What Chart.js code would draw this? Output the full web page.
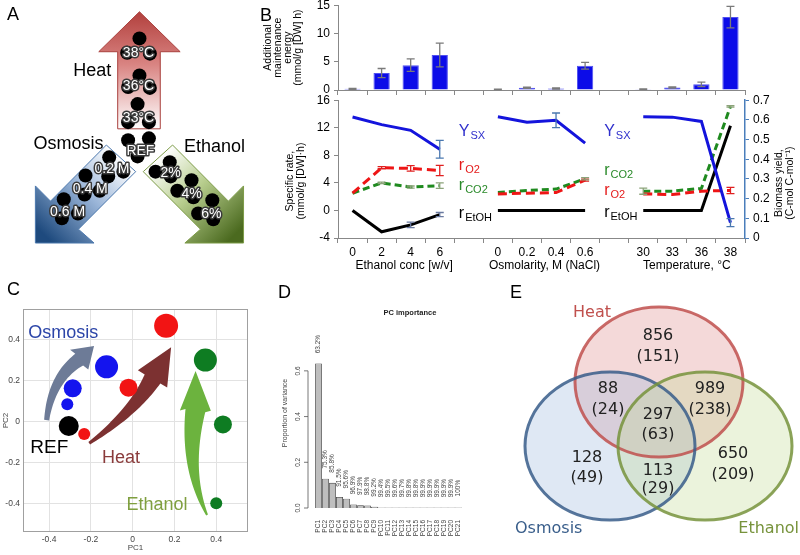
<!DOCTYPE html>
<html>
<head>
<meta charset="utf-8" />
<script src="https://cdn.jsdelivr.net/npm/chart.js"></script>
<style>
  body { margin: 0; background: #fff; }
  #page { position: relative; width: 800px; height: 555px; overflow: hidden; font-family: "Liberation Sans", Arial, sans-serif; }
  #page canvas { position: absolute; }
  .panel { position: absolute; font-size: 18px; line-height: 1; color: #000; }
</style>
</head>
<body>
<div id="page">
  <canvas id="chartA" width="260" height="290" style="left:0px;top:0px"></canvas>
  <canvas id="chartBtop" width="550" height="108" style="left:250px;top:-6px"></canvas>
  <canvas id="chartBbot" width="550" height="186" style="left:250px;top:89px"></canvas>
  <canvas id="chartC" width="260" height="265" style="left:0px;top:290px"></canvas>
  <canvas id="chartD" width="240" height="265" style="left:270px;top:290px"></canvas>
  <canvas id="chartE" width="290" height="265" style="left:510px;top:290px"></canvas>
  <div class="panel" style="left:7px;top:5px">A</div>
  <div class="panel" style="left:260px;top:6px">B</div>
  <div class="panel" style="left:7px;top:280px">C</div>
  <div class="panel" style="left:278px;top:283px">D</div>
  <div class="panel" style="left:510px;top:283px">E</div>
</div>

<script>
// ---------- panel A: stress conditions (3 dots each) ----------
const stressConds = ['38°C', '36°C', '33°C', 'REF', '0.2 M', '0.4 M', '0.6 M', '2%', '4%', '6%'];
const stressDotX = [[140, 127, 151], [140, 128, 151], [138, 128, 150], [128, 150, 138], [108, 123, 107],
                    [83, 98, 82], [60, 75, 58], [172, 157, 173], [195, 180, 197], [217, 202, 218]];
const stressDotY = [[33, 48, 49], [72, 84, 85], [102, 121, 121], [140, 138, 157], [158, 173, 178],
                    [177, 193, 197], [202, 217, 222], [163, 173, 178], [182, 193, 200], [203, 217, 223]];
const stressLabelX = [139, 139, 139, 141, 111, 88, 64, 173, 195, 216];
const stressLabelY = [49, 83, 117, 151, 170, 191, 216, 175, 197, 218];

// ---------- panel B ----------
const ethanolConc = ['0', '2', '4', '6'];
const osmolarity = ['0', '0.2', '0.4', '0.6'];
const temperature = ['30', '33', '36', '38'];

// additional maintenance energy
const maintEth = [0.2, 3.0, 4.4, 6.2];
const maintEthErr = [0.1, 0.8, 1.1, 2.1];
const maintOsm = [0.1, 0.4, 0.25, 4.3];
const maintOsmErr = [0.05, 0.1, 0.1, 0.6];
const maintTmp = [0.15, 0.45, 1.0, 12.9];
const maintTmpErr = [0.05, 0.1, 0.4, 1.9];

// biomass yield (right axis)
const ysxEth = [0.615, 0.576, 0.547, 0.451];
const ysxEthErr = [null, null, null, 0.045];
const ysxOsm = [0.616, 0.588, 0.598, 0.482];
const ysxOsmErr = [null, null, 0.037, null];
const ysxTmp = [0.616, 0.614, 0.592, 0.078];
const ysxTmpErr = [null, null, null, 0.02];

// specific rates (left axis)
const rO2Eth = [2.5, 6.2, 6.1, 5.8];
const rO2EthErr = [null, 0.15, 0.4, 0.75];
const rO2Osm = [2.4, 2.5, 2.6, 4.4];
const rO2OsmErr = [null, null, null, 0.15];
const rO2Tmp = [2.4, 2.3, 2.8, 2.9];
const rO2TmpErr = [null, null, null, 0.45];

const rCO2Eth = [2.5, 4.0, 3.4, 3.6];
const rCO2EthErr = [null, 0.1, 0.15, 0.4];
const rCO2Osm = [2.6, 2.9, 3.1, 4.6];
const rCO2OsmErr = [null, null, null, 0.15];
const rCO2Tmp = [2.8, 2.8, 3.2, 15.1];
const rCO2TmpErr = [0.45, null, null, 0.1];

const rEtohEth = [0, -3.1, -2.1, -0.6];
const rEtohEthErr = [null, null, 0.4, 0.3];
const rEtohOsm = [0, 0, 0, 0];
const rEtohTmp = [0, 0, 0, 12.3];
const noErr = [null, null, null, null];

// ---------- panel C: PCA scores ----------
const refPC1 = [-0.306];
const refPC2 = [-0.023];
const osmPC1 = [-0.313, -0.287, -0.125];
const osmPC2 = [0.083, 0.161, 0.266];
const heatPC1 = [-0.232, -0.02, 0.16];
const heatPC2 = [-0.062, 0.164, 0.466];
const ethPC1 = [0.40, 0.432, 0.348];
const ethPC2 = [-0.40, -0.015, 0.299];
const pcaTicks = [-0.4, -0.2, 0, 0.2, 0.4];

// ---------- panel D: PC importance ----------
const pcNames = ['PC1', 'PC2', 'PC3', 'PC4', 'PC5', 'PC6', 'PC7', 'PC8', 'PC9', 'PC10', 'PC11',
                 'PC12', 'PC13', 'PC14', 'PC15', 'PC16', 'PC17', 'PC18', 'PC19', 'PC20', 'PC21'];
const pcVar = [0.632, 0.128, 0.11, 0.048, 0.041, 0.015, 0.012, 0.011, 0.005, 0.002, 0.002,
               0.002, 0.002, 0.002, 0.002, 0.002, 0.002, 0.002, 0.002, 0.002, 0.002];
const pcCum = ['63.2%', '75.3%', '85.8%', '91.5%', '95.6%', '96.9%', '97.9%', '98.8%', '99.2%', '99.4%', '99.5%',
               '99.6%', '99.7%', '99.8%', '99.8%', '99.9%', '99.9%', '99.9%', '99.9%', '99.9%', '100%'];
const pcAxisTicks = [0, 0.2, 0.4, 0.6];

// ---------- panel E: Venn counts (genes, TFs in brackets) ----------
const vennSets = ['Heat', 'Osmosis', 'Ethanol'];
const vennRegions = ['Heat', 'Heat+Osmosis', 'Heat+Ethanol', 'All', 'Osmosis', 'Osmosis+Ethanol', 'Ethanol'];
const vennGenes = [856, 88, 989, 297, 128, 113, 650];
const vennTFs = [151, 24, 238, 63, 49, 29, 209];

// -------------------------------------------------------------
const FONT = '"Liberation Sans", Arial, sans-serif';
Chart.defaults.font.family = FONT;
Chart.defaults.color = '#000';
Chart.defaults.animation = false;
Chart.defaults.responsive = false;
Chart.defaults.events = [];
Chart.defaults.plugins.legend.display = false;
Chart.defaults.plugins.tooltip.enabled = false;

function joinGroups(a, b, c) { return [...a, null, ...b, null, ...c]; }
const slotLabels = joinGroups(ethanolConc, osmolarity, temperature).map(v => v === null ? '' : v);
const zip = (xs, ys) => xs.map((x, i) => ({ x: x, y: ys[i] }));

// error bars for bar and line charts
const errorBars = {
  id: 'errorBars',
  afterDatasetsDraw(chart) {
    const ctx = chart.ctx;
    chart.data.datasets.forEach((ds, i) => {
      if (!ds.errors) return;
      const meta = chart.getDatasetMeta(i);
      const scale = chart.scales[meta.yAxisID];
      ctx.save();
      ctx.strokeStyle = ds.errColor;
      ctx.lineWidth = 1.3;
      meta.data.forEach((el, j) => {
        const v = ds.data[j], e = ds.errors[j];
        if (v == null || e == null) return;
        const x = el.x;
        const yt = scale.getPixelForValue(v + e), yb = scale.getPixelForValue(v - e);
        ctx.beginPath();
        ctx.moveTo(x, yt); ctx.lineTo(x, yb);
        ctx.moveTo(x - 4, yt); ctx.lineTo(x + 4, yt);
        ctx.moveTo(x - 4, yb); ctx.lineTo(x + 4, yb);
        ctx.stroke();
      });
      ctx.restore();
    });
  }
};

// ---------- A ----------
const stressArrows = [
  { pts: [[140, 5], [183, 47], [162, 47], [162, 128], [117, 128], [117, 47], [97, 47]],
    from: [140, 5], to: [140, 128], stops: ['#b2403d', '#d98482', '#ffffff'], edge: '#a9413e' },
  { pts: [[105, 145], [46, 204], [30, 188], [30, 248], [92, 248], [75.5, 233.5], [136, 173]],
    from: [120, 159], to: [40, 240], stops: ['#ffffff', '#9ab5d8', '#1e4a7e'], edge: '#4c78ad' },
  { pts: [[175, 145], [234, 204], [250, 188], [250, 248], [188, 248], [204.5, 233.5], [144, 173]],
    from: [160, 159], to: [240, 240], stops: ['#ffffff', '#b7cd8d', '#4b6a1f'], edge: '#7d9b48' }
];
const stressDecor = {
  id: 'stressDecor',
  beforeDatasetsDraw(chart) {
    const { ctx, scales: { x, y } } = chart;
    const P = p => [x.getPixelForValue(p[0]), y.getPixelForValue(p[1])];
    stressArrows.forEach(a => {
      const f = P(a.from), t = P(a.to);
      const g = ctx.createLinearGradient(f[0], f[1], t[0], t[1]);
      g.addColorStop(0, a.stops[0]); g.addColorStop(0.45, a.stops[1]); g.addColorStop(1, a.stops[2]);
      ctx.save();
      ctx.beginPath();
      a.pts.forEach((p, i) => { const q = P(p); i ? ctx.lineTo(q[0], q[1]) : ctx.moveTo(q[0], q[1]); });
      ctx.closePath();
      ctx.fillStyle = g; ctx.fill();
      ctx.strokeStyle = a.edge; ctx.lineWidth = 1; ctx.stroke();
      ctx.restore();
    });
    ctx.save();
    ctx.font = '18px ' + FONT;
    ctx.fillStyle = '#000';
    ctx.fillText('Heat', x.getPixelForValue(70), y.getPixelForValue(73));
    ctx.fillText('Osmosis', x.getPixelForValue(28), y.getPixelForValue(149));
    ctx.fillText('Ethanol', x.getPixelForValue(187), y.getPixelForValue(152));
    ctx.restore();
  },
  afterDatasetsDraw(chart) {
    const { ctx, scales: { x, y } } = chart;
    ctx.save();
    ctx.font = '14px ' + FONT;
    ctx.textAlign = 'center'; ctx.textBaseline = 'middle';
    ctx.lineJoin = 'round'; ctx.lineWidth = 3; ctx.strokeStyle = '#3a3a3a';
    ctx.fillStyle = '#fff';
    stressConds.forEach((c, i) => {
      const px = x.getPixelForValue(stressLabelX[i]), py = y.getPixelForValue(stressLabelY[i]);
      ctx.strokeText(c, px, py);
      ctx.fillText(c, px, py);
    });
    ctx.restore();
  }
};
const stressDots = [];
stressDotX.forEach((xs, i) => xs.forEach((v, j) => stressDots.push({ x: v, y: stressDotY[i][j] })));
new Chart(document.getElementById('chartA'), {
  type: 'scatter',
  data: { datasets: [{ data: stressDots, pointRadius: 7, backgroundColor: '#000', borderWidth: 0 }] },
  options: {
    scales: {
      x: { type: 'linear', min: 0, max: 260, display: false },
      y: { type: 'linear', min: 0, max: 290, reverse: true, display: false }
    }
  },
  plugins: [stressDecor]
});

// ---------- B top ----------
new Chart(document.getElementById('chartBtop'), {
  type: 'bar',
  data: {
    labels: slotLabels,
    datasets: [{
      data: joinGroups(maintEth, maintOsm, maintTmp),
      errors: joinGroups(maintEthErr, maintOsmErr, maintTmpErr),
      errColor: '#7a7a7a',
      backgroundColor: '#0c0ce8', borderColor: '#5050f0', borderWidth: 1,
      barPercentage: 0.56, categoryPercentage: 1
    }]
  },
  options: {
    layout: { padding: { right: 55 } },
    scales: {
      x: {
        grid: { offset: true, drawOnChartArea: false, tickLength: 5, color: '#888' },
        border: { color: '#888' }, ticks: { display: false },
        afterFit(s) { s.height = 12; }
      },
      y: {
        min: 0, max: 15,
        ticks: { stepSize: 5, font: { size: 12 }, padding: 4 },
        grid: { drawOnChartArea: false, tickLength: 4, color: '#888' },
        border: { color: '#888' },
        title: {
          display: true, text: ['Additional', 'maintenance', 'energy', '(mmol/g [DW] h)'],
          font: { size: 10.5, lineHeight: 0.95 }, padding: { top: 13, bottom: 0 }
        },
        afterFit(s) { s.width = 88; }
      }
    }
  },
  plugins: [errorBars]
});

// ---------- B bottom ----------
const rateLabels = [
  { slot: 4, v: 10.8, main: 'Y', sub: 'SX', color: '#3030cc' },
  { slot: 4, v: 5.9, main: 'r', sub: 'O2', color: '#e41a1a' },
  { slot: 4, v: 2.9, main: 'r', sub: 'CO2', color: '#2a8a2a' },
  { slot: 4, v: -1.1, main: 'r', sub: 'EtOH', color: '#000' },
  { slot: 9, v: 10.8, main: 'Y', sub: 'SX', color: '#3030cc' },
  { slot: 9, v: 5.2, main: 'r', sub: 'CO2', color: '#2a8a2a' },
  { slot: 9, v: 2.3, main: 'r', sub: 'O2', color: '#e41a1a' },
  { slot: 9, v: -1.0, main: 'r', sub: 'EtOH', color: '#000' }
];
const groupTitles = [
  { from: 0, to: 3, dx: 8, text: 'Ethanol conc [w/v]' },
  { from: 5, to: 8, dx: 3, text: 'Osmolarity, M (NaCl)' },
  { from: 10, to: 13, dx: 0, text: 'Temperature, °C' }
];
function rotatedLines(ctx, lines, x0, yc, step) {
  lines.forEach((t, i) => {
    ctx.save();
    ctx.translate(x0 + i * step, yc);
    ctx.rotate(-Math.PI / 2);
    ctx.textAlign = 'center'; ctx.textBaseline = 'middle';
    ctx.fillText(t, 0, 0);
    ctx.restore();
  });
}
const rateDecor = {
  id: 'rateDecor',
  afterDraw(chart) {
    const { ctx, chartArea: a, scales: { x, y } } = chart;
    ctx.save();
    rateLabels.forEach(l => {
      const px = x.getPixelForValue(l.slot) - 10, py = y.getPixelForValue(l.v);
      ctx.fillStyle = l.color;
      ctx.textAlign = 'left'; ctx.textBaseline = 'alphabetic';
      ctx.font = '16px ' + FONT;
      ctx.fillText(l.main, px, py);
      const w = ctx.measureText(l.main).width;
      ctx.font = '11px ' + FONT;
      ctx.fillText(l.sub, px + w + 1, py + 3);
    });
    ctx.fillStyle = '#000';
    ctx.font = '12px ' + FONT;
    ctx.textAlign = 'center'; ctx.textBaseline = 'middle';
    groupTitles.forEach(g => {
      const cx = (x.getPixelForValue(g.from) + x.getPixelForValue(g.to)) / 2 + g.dx;
      ctx.fillText(g.text, cx, a.bottom + 28);
    });
    ctx.font = '10.5px ' + FONT;
    const yc = (a.top + a.bottom) / 2;
    rotatedLines(ctx, ['Specific rate,', '(mmol/g [DW]·h)'], 40, yc + 12, 11);
    rotatedLines(ctx, ['Biomass yield,', '(C-mol C-mol⁻¹)'], 529, yc + 14, 11);
    ctx.restore();
  }
};
new Chart(document.getElementById('chartBbot'), {
  type: 'line',
  data: {
    labels: slotLabels,
    datasets: [
      { data: joinGroups(ysxEth, ysxOsm, ysxTmp), errors: joinGroups(ysxEthErr, ysxOsmErr, ysxTmpErr),
        errColor: '#4a78b0', yAxisID: 'y1', borderColor: '#1414dc', borderWidth: 3 },
      { data: joinGroups(rO2Eth, rO2Osm, rO2Tmp), errors: joinGroups(rO2EthErr, rO2OsmErr, rO2TmpErr),
        errColor: '#e02020', yAxisID: 'y', borderColor: '#ee1515', borderWidth: 3, borderDash: [9, 5] },
      { data: joinGroups(rCO2Eth, rCO2Osm, rCO2Tmp), errors: joinGroups(rCO2EthErr, rCO2OsmErr, rCO2TmpErr),
        errColor: '#8ca37a', yAxisID: 'y', borderColor: '#1f8a1f', borderWidth: 3, borderDash: [7, 4] },
      { data: joinGroups(rEtohEth, rEtohOsm, rEtohTmp), errors: joinGroups(rEtohEthErr, noErr, noErr),
        errColor: '#6a7aa0', yAxisID: 'y', borderColor: '#000', borderWidth: 3 }
    ]
  },
  options: {
    elements: { point: { radius: 0 }, line: { tension: 0 } },
    scales: {
      x: {
        offset: true,
        grid: { offset: true, drawOnChartArea: false, tickLength: 5, color: '#888' },
        border: { color: '#888' },
        ticks: { font: { size: 12 }, padding: 2, maxRotation: 0, autoSkip: false },
        afterFit(s) { s.height = 37; }
      },
      y: {
        position: 'left', min: -4, max: 16,
        ticks: { stepSize: 4, font: { size: 12 }, padding: 4 },
        grid: { drawOnChartArea: false, tickLength: 4, color: '#888' },
        border: { color: '#888' },
        afterFit(s) { s.width = 88; }
      },
      y1: {
        position: 'right', min: 0, max: 0.7,
        ticks: { stepSize: 0.1, font: { size: 12 }, padding: 4 },
        grid: { drawOnChartArea: false, tickLength: 4, color: '#4a7ebb' },
        border: { color: '#4a7ebb', width: 1.5 },
        afterFit(s) { s.width = 55; }
      }
    }
  },
  plugins: [errorBars, rateDecor]
});

// ---------- C ----------
const pcaArrows = [
  { color: '#6d7b97', tail: [-0.412, 0.006], ctrl: [-0.387, 0.211], base: [-0.256, 0.301], tip: [-0.185, 0.367], w0: 5, w1: 14, head: 27 },
  { color: '#7c3131', tail: [-0.208, -0.107], ctrl: [0.003, 0.044], base: [0.095, 0.207], tip: [0.184, 0.361], w0: 3, w1: 18, head: 34 },
  { color: '#6cb33e', tail: [0.356, -0.457], ctrl: [0.253, -0.237], base: [0.30, 0.052], tip: [0.301, 0.245], w0: 2, w1: 20, head: 31 }
];
const pcaTexts = [
  { t: 'Osmosis', x: -0.50, y: 0.406, color: '#2c45a8', size: 18 },
  { t: 'REF', x: -0.49, y: -0.155, color: '#000', size: 19 },
  { t: 'Heat', x: -0.147, y: -0.203, color: '#8a3b3b', size: 18 },
  { t: 'Ethanol', x: -0.03, y: -0.432, color: '#7f9f3f', size: 18 }
];
function drawCurvedArrow(ctx, p0, c, p1, tip, w0, w1, headW, color) {
  const n = 30, L = [], R = [];
  for (let i = 0; i <= n; i++) {
    const t = i / n, m = 1 - t;
    const x = m * m * p0[0] + 2 * m * t * c[0] + t * t * p1[0];
    const y = m * m * p0[1] + 2 * m * t * c[1] + t * t * p1[1];
    const dx = 2 * m * (c[0] - p0[0]) + 2 * t * (p1[0] - c[0]);
    const dy = 2 * m * (c[1] - p0[1]) + 2 * t * (p1[1] - c[1]);
    const len = Math.hypot(dx, dy) || 1;
    const hw = (w0 + (w1 - w0) * t) / 2;
    L.push([x - dy / len * hw, y + dx / len * hw]);
    R.push([x + dy / len * hw, y - dx / len * hw]);
  }
  const hx = tip[0] - p1[0], hy = tip[1] - p1[1], hl = Math.hypot(hx, hy);
  const nx = -hy / hl, ny = hx / hl;
  ctx.beginPath();
  ctx.moveTo(L[0][0], L[0][1]);
  L.forEach(p => ctx.lineTo(p[0], p[1]));
  ctx.lineTo(p1[0] + nx * headW / 2, p1[1] + ny * headW / 2);
  ctx.lineTo(tip[0], tip[1]);
  ctx.lineTo(p1[0] - nx * headW / 2, p1[1] - ny * headW / 2);
  for (let i = R.length - 1; i >= 0; i--) ctx.lineTo(R[i][0], R[i][1]);
  ctx.closePath();
  ctx.fillStyle = color;
  ctx.fill();
}
const pcaDecor = {
  id: 'pcaDecor',
  beforeDatasetsDraw(chart) {
    const { ctx, scales: { x, y } } = chart;
    const P = p => [x.getPixelForValue(p[0]), y.getPixelForValue(p[1])];
    ctx.save();
    pcaArrows.forEach(a => drawCurvedArrow(ctx, P(a.tail), P(a.ctrl), P(a.base), P(a.tip), a.w0, a.w1, a.head, a.color));
    pcaTexts.forEach(t => {
      ctx.font = t.size + 'px ' + FONT;
      ctx.fillStyle = t.color;
      ctx.fillText(t.t, x.getPixelForValue(t.x), y.getPixelForValue(t.y));
    });
    ctx.restore();
  },
  afterDraw(chart) {
    const { ctx, chartArea: a } = chart;
    ctx.save();
    ctx.strokeStyle = '#a0a0a0'; ctx.lineWidth = 1;
    ctx.strokeRect(a.left + 0.5, a.top + 0.5, a.width - 1, a.height - 1);
    ctx.fillStyle = '#444'; ctx.font = '8px ' + FONT;
    ctx.textAlign = 'center'; ctx.textBaseline = 'middle';
    ctx.fillText('PC1', (a.left + a.right) / 2, 258);
    rotatedLines(ctx, ['PC2'], 6, (a.top + a.bottom) / 2, 0);
    ctx.restore();
  }
};
const pcaAxis = {
  type: 'linear',
  afterBuildTicks(s) { s.ticks = pcaTicks.map(v => ({ value: v })); },
  ticks: { font: { size: 8.5 }, color: '#444', padding: 3, callback: v => v === 0 ? '0' : v.toFixed(1) },
  grid: { color: '#e2e2e2', drawTicks: false },
  border: { display: false }
};
new Chart(document.getElementById('chartC'), {
  type: 'scatter',
  data: {
    datasets: [
      { data: zip(refPC1, refPC2), pointRadius: 10, backgroundColor: '#000' },
      { data: zip(osmPC1, osmPC2), pointRadius: [6, 9, 11.5], backgroundColor: '#1414ee' },
      { data: zip(heatPC1, heatPC2), pointRadius: [6, 9, 12], backgroundColor: '#f21414' },
      { data: zip(ethPC1, ethPC2), pointRadius: [6, 9, 11.5], backgroundColor: '#0e7c22' }
    ]
  },
  options: {
    elements: { point: { borderWidth: 0 } },
    layout: { padding: { top: 19, right: 8 } },
    scales: {
      x: Object.assign({}, pcaAxis, { min: -0.525, max: 0.552, afterFit(s) { s.height = 23; } }),
      y: Object.assign({}, pcaAxis, { min: -0.54, max: 0.548, afterFit(s) { s.width = 23; } })
    }
  },
  plugins: [pcaDecor]
});

// ---------- D ----------
const pcDecor = {
  id: 'pcDecor',
  afterDatasetsDraw(chart) {
    const { ctx, chartArea: a, scales: { y } } = chart;
    const ax = a.left - 7;
    ctx.save();
    ctx.strokeStyle = '#555'; ctx.lineWidth = 0.8;
    ctx.beginPath();
    ctx.moveTo(ax, y.getPixelForValue(0)); ctx.lineTo(ax, y.getPixelForValue(0.6));
    pcAxisTicks.forEach(t => { const py = y.getPixelForValue(t); ctx.moveTo(ax, py); ctx.lineTo(ax - 4, py); });
    ctx.stroke();
    ctx.fillStyle = '#444';
    ctx.font = '6.5px ' + FONT;
    pcAxisTicks.forEach(t => rotatedLines(ctx, [t.toFixed(1)], ax - 10, y.getPixelForValue(t), 0));
    chart.getDatasetMeta(0).data.forEach((bar, i) => {
      rotatedLines(ctx, [pcCum[i]], bar.x, y.getPixelForValue(pcVar[i] + 0.085), 0);
    });
    ctx.font = '7px ' + FONT;
    rotatedLines(ctx, ['Proportion of variance'], 15, 123, 0);
    ctx.font = 'bold 7.5px ' + FONT;
    ctx.fillStyle = '#222';
    ctx.textAlign = 'center'; ctx.textBaseline = 'middle';
    ctx.fillText('PC importance', 140, 23);
    ctx.restore();
  }
};
new Chart(document.getElementById('chartD'), {
  type: 'bar',
  data: {
    labels: pcNames,
    datasets: [{ data: pcVar, backgroundColor: '#bebebe', borderColor: '#3c3c3c', borderWidth: 0.8,
                 barPercentage: 0.97, categoryPercentage: 1 }]
  },
  options: {
    layout: { padding: { top: 58, right: 48 } },
    scales: {
      x: {
        grid: { display: false }, border: { display: false },
        ticks: { font: { size: 6.5 }, color: '#444', minRotation: 90, maxRotation: 90, autoSkip: false, padding: 4 },
        afterFit(s) { s.height = 47; }
      },
      y: {
        min: 0, max: 0.7,
        ticks: { display: false }, grid: { display: false }, border: { display: false },
        afterFit(s) { s.width = 45; }
      }
    }
  },
  plugins: [pcDecor]
});

// ---------- E ----------
const vennShapes = [
  { cx: 149, cy: 92, rx: 84, ry: 75, fill: 'rgba(220,130,130,0.3)', edge: '#c0504d' },
  { cx: 100, cy: 156, rx: 85, ry: 74, fill: 'rgba(150,180,220,0.3)', edge: '#385d8a' },
  { cx: 195, cy: 156, rx: 87, ry: 74, fill: 'rgba(190,215,140,0.3)', edge: '#77933c' }
];
const vennSetLabels = [
  { x: 63, y: 27, align: 'left' },
  { x: 5, y: 243, align: 'left' },
  { x: 289, y: 243, align: 'right' }
];
const vennSpots = [[148, 50, 21], [98, 103, 21], [200, 103, 21], [148, 129, 20], [77, 172, 20], [148, 185, 18], [223, 168, 21]];
const vennDraw = {
  id: 'vennDraw',
  afterDraw(chart) {
    const { ctx, scales: { x, y } } = chart;
    const sx = v => x.getPixelForValue(v), sy = v => y.getPixelForValue(v);
    ctx.save();
    vennShapes.forEach(s => {
      ctx.beginPath();
      ctx.ellipse(sx(s.cx), sy(s.cy), s.rx, s.ry, 0, 0, Math.PI * 2);
      ctx.fillStyle = s.fill; ctx.fill();
    });
    ctx.lineWidth = 3;
    ctx.globalAlpha = 0.85;
    vennShapes.forEach(s => {
      ctx.beginPath();
      ctx.ellipse(sx(s.cx), sy(s.cy), s.rx, s.ry, 0, 0, Math.PI * 2);
      ctx.strokeStyle = s.edge; ctx.stroke();
    });
    ctx.globalAlpha = 1;
    ctx.font = '16px "DejaVu Sans", sans-serif';
    vennSets.forEach((n, i) => {
      const l = vennSetLabels[i];
      ctx.fillStyle = vennShapes[i].edge;
      ctx.textAlign = l.align;
      ctx.fillText(n, sx(l.x), sy(l.y));
    });
    ctx.fillStyle = '#222';
    ctx.textAlign = 'center';
    vennRegions.forEach((r, i) => {
      const [px, py, gap] = vennSpots[i];
      ctx.fillText(String(vennGenes[i]), sx(px), sy(py));
      ctx.fillText('(' + vennTFs[i] + ')', sx(px), sy(py + gap));
    });
    ctx.restore();
  }
};
new Chart(document.getElementById('chartE'), {
  type: 'scatter',
  data: { datasets: [{ data: [], pointRadius: 0 }] },
  options: {
    scales: {
      x: { type: 'linear', min: 0, max: 290, display: false },
      y: { type: 'linear', min: 0, max: 265, reverse: true, display: false }
    }
  },
  plugins: [vennDraw]
});
</script>
</body>
</html>
